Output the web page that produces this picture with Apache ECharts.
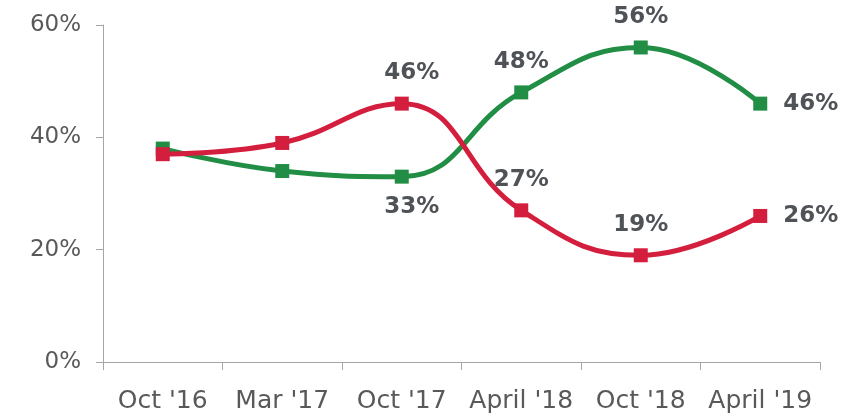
<!DOCTYPE html>
<html>
<head>
<meta charset="utf-8">
<style>
  html, body { margin: 0; padding: 0; background: #ffffff; }
  #chart { width: 842px; height: 416px; }
</style>
<script src="https://cdn.jsdelivr.net/npm/echarts@6/dist/echarts.min.js"></script>
</head>
<body>
<div id="chart"></div>
<script>
// Survey waves and the two tracked shares (percent)
const categories = ["Oct '16", "Mar '17", "Oct '17", "April '18", "Oct '18", "April '19"];
const greenValues = [38, 34, 33, 48, 56, 46];
const redValues = [37, 39, 46, 27, 19, 26];
// Where each point's value label sits (null = no label)
const greenLabelPos = [null, null, 'bottom', 'top', 'top', 'right'];
const redLabelPos = [null, null, 'top', 'top', 'top', 'right'];
const yTicks = { min: 0, max: 60, interval: 20 };

const GREEN = '#228e45';
const RED = '#d41e3e';
const AXIS = '#a6a6a6';
const TEXT = '#595959';
const LABEL = '#4f5357';
const FONT = '"DejaVu Sans", Verdana, sans-serif';

function buildData(values, positions) {
  return values.map((v, i) => {
    const pos = positions[i];
    const item = { value: v };
    if (!pos) {
      item.label = { show: false };
    } else {
      item.label = {
        show: true,
        position: pos,
        distance: pos === 'right' ? 16 : 12,
        offset: i === 2 ? [10, 0] : [0, 0]
      };
    }
    return item;
  });
}

const labelStyle = {
  color: LABEL,
  fontFamily: FONT,
  fontSize: 23,
  fontWeight: 'bold',
  formatter: '{c}%'
};

const chart = echarts.init(document.getElementById('chart'), null, { renderer: 'canvas' });
chart.setOption({
  animation: false,
  backgroundColor: '#ffffff',
  grid: { left: 103, right: 22, top: 25, bottom: 54, containLabel: false },
  xAxis: {
    type: 'category',
    data: categories,
    boundaryGap: true,
    axisLine: { show: true, lineStyle: { color: AXIS, width: 1 } },
    axisTick: { show: true, length: 8, alignWithLabel: false, lineStyle: { color: AXIS } },
    axisLabel: { color: TEXT, fontFamily: FONT, fontSize: 25, margin: 27, interval: 0 },
    splitLine: { show: false }
  },
  yAxis: {
    type: 'value',
    min: yTicks.min,
    max: yTicks.max,
    interval: yTicks.interval,
    axisLine: { show: true, lineStyle: { color: AXIS, width: 1 } },
    axisTick: { show: true, length: 7, lineStyle: { color: AXIS } },
    axisLabel: { color: TEXT, fontFamily: FONT, fontSize: 23, margin: 22, formatter: '{value}%' },
    splitLine: { show: false }
  },
  series: [
    {
      name: 'Green',
      type: 'line',
      smooth: 0.45,
      data: buildData(greenValues, greenLabelPos),
      symbol: 'rect',
      symbolSize: 14,
      lineStyle: { color: GREEN, width: 5 },
      itemStyle: { color: GREEN },
      label: labelStyle,
      z: 2
    },
    {
      name: 'Red',
      type: 'line',
      smooth: 0.45,
      data: buildData(redValues, redLabelPos),
      symbol: 'rect',
      symbolSize: 14,
      lineStyle: { color: RED, width: 5 },
      itemStyle: { color: RED },
      label: labelStyle,
      z: 3
    }
  ]
});
</script>
</body>
</html>
